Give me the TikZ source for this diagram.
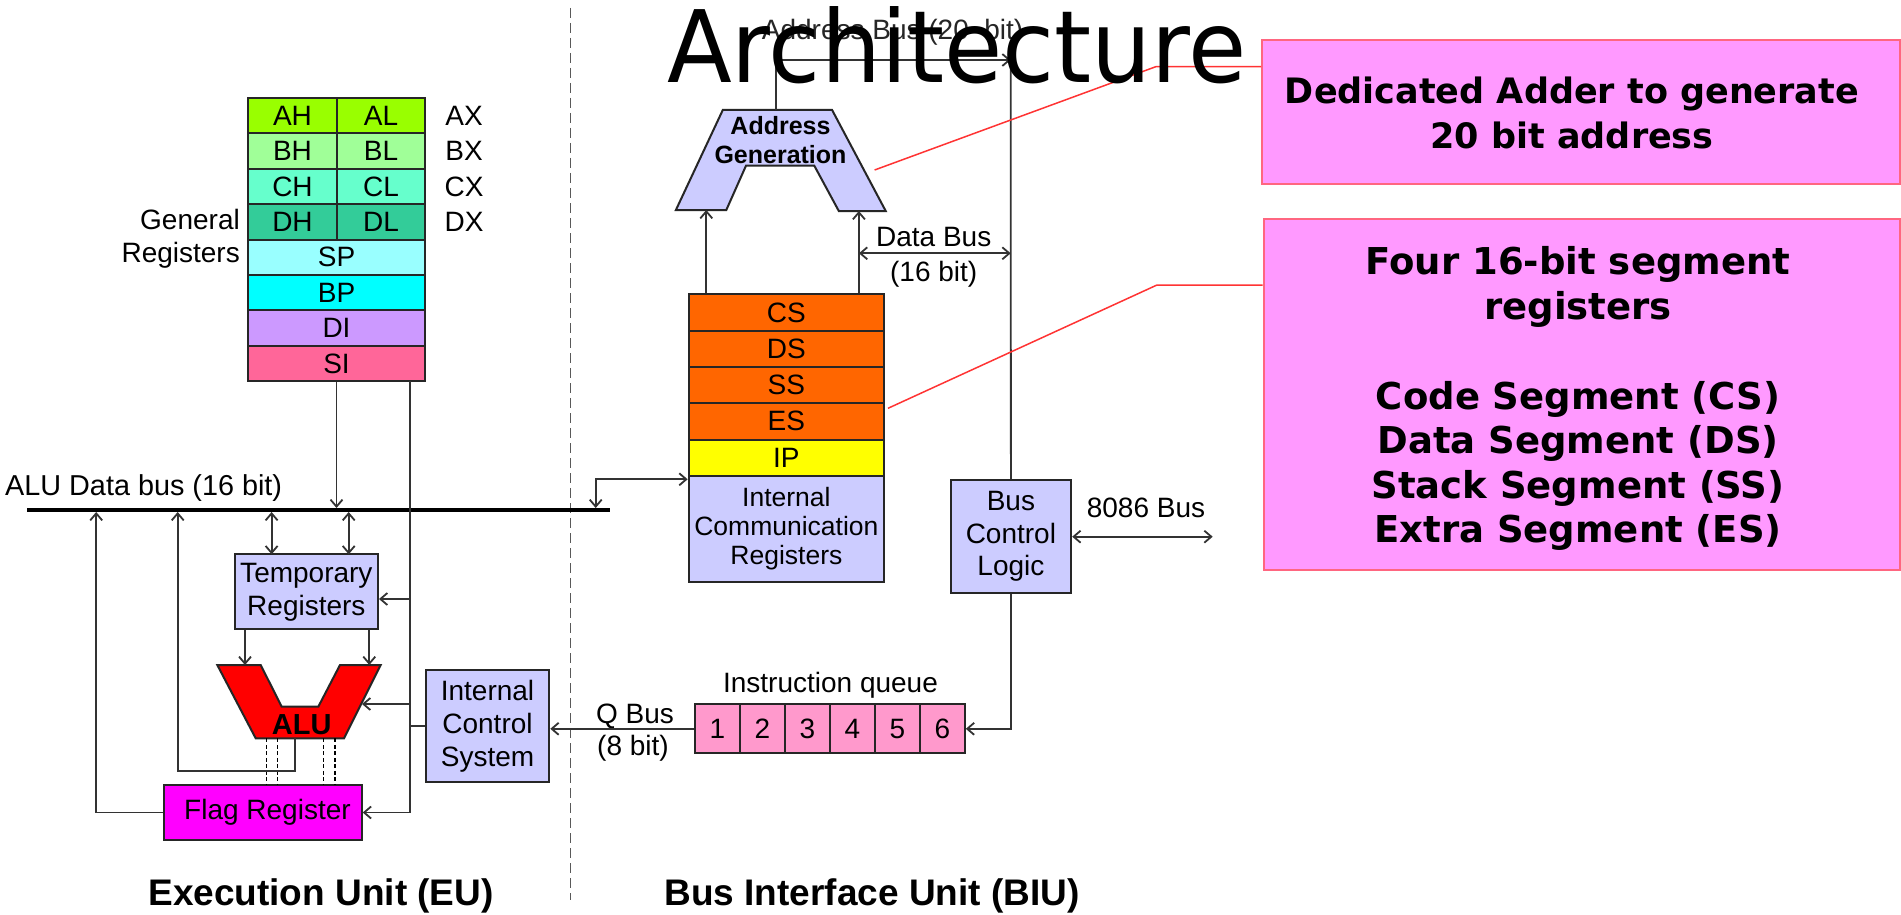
\documentclass[tikz,border=0pt]{standalone}
\usepackage{fontspec}
\setmainfont{Liberation Sans}
\newfontfamily\dejavu{DejaVu Sans}
\usetikzlibrary{arrows.meta}
\definecolor{cAH}{HTML}{99FF00}
\definecolor{cBH}{HTML}{A0FF98}
\definecolor{cCH}{HTML}{66FFCC}
\definecolor{cDH}{HTML}{33CC99}
\definecolor{cSP}{HTML}{99FFFF}
\definecolor{cBP}{HTML}{00FFFF}
\definecolor{cDI}{HTML}{CC99FF}
\definecolor{cSI}{HTML}{FF6699}
\definecolor{cSeg}{HTML}{FF6600}
\definecolor{cIP}{HTML}{FFFF00}
\definecolor{cLav}{HTML}{CCCCFF}
\definecolor{cQ}{HTML}{FF99CC}
\definecolor{cFlag}{HTML}{FF00FF}
\definecolor{cALU}{HTML}{FF0000}
\definecolor{cCall}{HTML}{FF99FF}
\definecolor{cCallB}{HTML}{FF6680}
\definecolor{cLine}{HTML}{333333}
\definecolor{cRed}{HTML}{FF3333}
\tikzset{
 ln/.style={draw=cLine, line width=1.8pt},
 arr/.style={ln, -{Straight Barb[length=7pt,width=12pt]}},
 darr/.style={ln, {Straight Barb[length=7pt,width=12pt]}-{Straight Barb[length=7pt,width=12pt]}},
 dl/.style={draw=black, line width=1.5pt, dash pattern=on 4pt off 2.5pt},
 bx/.style={draw=black!85, line width=2pt, inner sep=0pt, align=center, font=\fontsize{28}{33}\selectfont},
 lbl/.style={inner sep=0pt, font=\fontsize{28}{33}\selectfont},
 cl/.style={draw=cRed, line width=1.5pt},
 callout/.style={draw=cCallB, line width=2pt, fill=cCall, inner sep=0pt},
 calltext/.style={inner sep=0pt, align=center, font=\dejavu\bfseries\fontsize{#1}{44.5}\selectfont},
}
\begin{document}
\begin{tikzpicture}[x=1pt,y=-1pt]
\fill[white] (0,0) rectangle (1901,915);
\useasboundingbox (0,0) rectangle (1901,915);

% ---------- coordinates ----------
\coordinate (busL) at (27,510);
\coordinate (busR) at (610,510);
\coordinate (busTop) at (0,508);
\coordinate (busBot) at (0,512);
\coordinate (divT) at (570.5,8);
\coordinate (divB) at (570.5,900);

% divider
\draw[ln, draw=black!65, dash pattern=on 10pt off 5pt] (divT) -- (divB);

% ---------- general registers ----------
\node[bx, fill=cAH, minimum width=89pt, minimum height=35.4pt] (AH) at (292.5,115.7) {AH};
\node[bx, fill=cAH, minimum width=88pt, minimum height=35.4pt] (AL) at (381,115.7) {AL};
\node[bx, fill=cBH, minimum width=89pt, minimum height=35.4pt] (BH) at (292.5,151.1) {BH};
\node[bx, fill=cBH, minimum width=88pt, minimum height=35.4pt] (BL) at (381,151.1) {BL};
\node[bx, fill=cCH, minimum width=89pt, minimum height=35.4pt] (CH) at (292.5,186.5) {CH};
\node[bx, fill=cCH, minimum width=88pt, minimum height=35.4pt] (CL) at (381,186.5) {CL};
\node[bx, fill=cDH, minimum width=89pt, minimum height=35.4pt] (DH) at (292.5,221.9) {DH};
\node[bx, fill=cDH, minimum width=88pt, minimum height=35.4pt] (DL) at (381,221.9) {DL};
\node[bx, fill=cSP, minimum width=177pt, minimum height=35.4pt] (SP) at (336.5,257.3) {SP};
\node[bx, fill=cBP, minimum width=177pt, minimum height=35.4pt] (BP) at (336.5,292.7) {BP};
\node[bx, fill=cDI, minimum width=177pt, minimum height=35.4pt] (DI) at (336.5,328.1) {DI};
\node[bx, fill=cSI, minimum width=177pt, minimum height=35.4pt] (SI) at (336.5,363.5) {SI};
\node[lbl] (AX) at (464,115.7) {AX};
\node[lbl] (BX) at (464,151.1) {BX};
\node[lbl] (CX) at (464,186.5) {CX};
\node[lbl] (DX) at (464,221.9) {DX};
\node[lbl, anchor=east, align=right, font=\fontsize{28}{33.5}\selectfont] (GR) at (240,239) {General\\Registers};

% ---------- ALU data bus ----------
\draw[line width=4pt, draw=black] (busL) -- (busR);
\node[lbl, anchor=base west, font=\fontsize{28.8}{33}\selectfont] (busLbl) at (5,495) {ALU Data bus (16 bit)};

% ---------- EU boxes ----------
\node[bx, fill=cLav, minimum width=143.3pt, minimum height=75pt] (TEMP) at (306.35,591.8) {Temporary\\Registers};
\node[bx, fill=cFlag, minimum width=197.4pt, minimum height=55pt] (FLAG) at (263,812.5) {\hspace*{9pt}Flag Register};
\node[bx, fill=cLav, minimum width=123.6pt, minimum height=112pt] (ICS) at (487.5,726) {Internal\\Control\\System};
\draw[draw=black!85, line width=2pt, fill=cALU] (217.3,665) -- (260.7,665) -- (281.7,706.7) -- (318.3,706.7) -- (340,665) -- (380.7,665) -- (344,738.3) -- (255.7,738.3) -- cycle;
\node[inner sep=0pt, font=\bfseries\fontsize{29}{32}\selectfont] (ALUlbl) at (301.7,724.5) {ALU};

% ---------- EU connectors ----------
\coordinate (ctlT) at (410,381.2);
\coordinate (ctlB) at (410,812.5);
\coordinate (cT) at (410,599);
\coordinate (cA) at (410,704);
\coordinate (aluR) at (362,704);
\coordinate (aluA) at (245,665);
\coordinate (aluB) at (369.3,665);
\coordinate (tA) at (271.6,554.3);
\coordinate (tB) at (348.7,554.3);
\coordinate (aluO) at (295,738.3);
\coordinate (fb1) at (177.7,771);
\coordinate (fb2) at (96.2,812.5);

\draw[arr] (SI.south) -- (SI.south |- busTop);
\draw[ln] (ctlT) -- (ctlB);
\draw[arr] (ctlB) -- (FLAG.east);
\draw[arr] (cT) -- (cT -| TEMP.east);
\draw[arr] (cA) -- (aluR);
\draw[ln] (ICS.west) -- (ICS.west -| ctlT);
\draw[arr] (aluA |- TEMP.south) -- (aluA);
\draw[arr] (aluB |- TEMP.south) -- (aluB);
\draw[darr] (tA |- busBot) -- (tA);
\draw[darr] (tB |- busBot) -- (tB);
\foreach \x in {266.7,277.3,323.3,335} \draw[dl] (\x,738.3) -- (\x,738.3 |- FLAG.north);
\draw[arr] (aluO) |- (fb1) -- (fb1 |- busBot);
\draw[arr] (FLAG.west) -- (fb2) -- (fb2 |- busBot);

% ---------- BIU ----------
\draw[draw=black!85, line width=2pt, fill=cLav] (722.8,110) -- (832.1,110) -- (885.7,211) -- (838.8,211) -- (814.3,165.7) -- (746,165.7) -- (726.3,210) -- (675.9,210) -- cycle;
\node[inner sep=0pt, align=center, font=\bfseries\fontsize{25}{29}\selectfont] (AGlbl) at (780.5,140) {Address\\Generation};

\node[bx, fill=cSeg, minimum width=195.5pt, minimum height=36.3pt] (CS) at (786.4,312.45) {CS};
\node[bx, fill=cSeg, minimum width=195.5pt, minimum height=36.3pt] (DS) at (786.4,348.75) {DS};
\node[bx, fill=cSeg, minimum width=195.5pt, minimum height=36.3pt] (SS) at (786.4,385.05) {SS};
\node[bx, fill=cSeg, minimum width=195.5pt, minimum height=36.3pt] (ES) at (786.4,421.35) {ES};
\node[bx, fill=cIP, minimum width=195.5pt, minimum height=36.3pt] (IP) at (786.4,457.65) {IP};
\node[bx, fill=cLav, minimum width=195.5pt, minimum height=106.5pt, font=\fontsize{26.5}{29}\selectfont] (ICR) at (786.4,529.05) {Internal\\Communication\\Registers};

\node[bx, fill=cLav, minimum width=120.6pt, minimum height=113.3pt, font=\fontsize{28}{32.5}\selectfont] (BCL) at (1010.9,536.7) {Bus\\Control\\Logic};

\node[bx, fill=cQ, minimum width=45pt, minimum height=49pt] (Q1) at (717.3,728.8) {1};
\node[bx, fill=cQ, minimum width=45pt, minimum height=49pt] (Q2) at (762.3,728.8) {2};
\node[bx, fill=cQ, minimum width=45pt, minimum height=49pt] (Q3) at (807.3,728.8) {3};
\node[bx, fill=cQ, minimum width=45pt, minimum height=49pt] (Q4) at (852.3,728.8) {4};
\node[bx, fill=cQ, minimum width=45pt, minimum height=49pt] (Q5) at (897.3,728.8) {5};
\node[bx, fill=cQ, minimum width=45pt, minimum height=49pt] (Q6) at (942.3,728.8) {6};

% BIU labels
\node[lbl, anchor=base west, text=black!85] (ABlbl) at (761.7,40) {Address Bus (20\ \ bit)};
\node[lbl, anchor=base] (DBlbl) at (933.7,246.7) {Data Bus};
\node[lbl, anchor=base] (DBlbl2) at (933.7,281.7) {(16 bit)};
\node[lbl, anchor=base] (EBlbl) at (1146,517.3) {8086 Bus};
\node[lbl, anchor=base] (IQlbl) at (830.5,692.3) {Instruction queue};
\node[lbl, anchor=base] (QBlbl) at (635,723.3) {Q Bus};
\node[lbl, anchor=base] (QBlbl2) at (633,755) {(8 bit)};

% BIU connectors
\coordinate (agTop) at (776.3,110);
\coordinate (abC) at (1010.7,60);
\coordinate (ag1) at (706.3,210);
\coordinate (ag2) at (858.9,211);
\coordinate (db) at (858.9,253.3);
\coordinate (ib) at (595.7,479.3);
\coordinate (eb) at (1212.7,537.3);

\draw[arr] (agTop) |- (abC);
\draw[ln] (abC) -- (BCL.north);
\draw[arr] (ag1 |- CS.north) -- (ag1);
\draw[arr] (ag2 |- CS.north) -- (ag2);
\draw[darr] (db) -- (db -| abC);
\draw[darr] (ib |- busTop) -- (ib) -- (ib -| ICR.west);
\draw[darr] (BCL.east) -- (BCL.east -| eb);
\draw[arr] (BCL.south) |- (Q6.east);
\draw[arr] (Q1.west) -- (Q1.west -| ICS.east);

% bottom titles
\node[anchor=base, inner sep=0pt, font=\bfseries\fontsize{37}{40}\selectfont] (EU) at (321,905) {Execution Unit (EU)};
\node[anchor=base, inner sep=0pt, font=\bfseries\fontsize{37}{40}\selectfont] (BIU) at (872,905) {Bus Interface Unit (BIU)};

% ---------- callouts ----------
\node[callout, minimum width=638pt, minimum height=143.6pt] (CB1) at (1581,111.8) {};
\node[calltext=35] (CB1t) at (1572,113.2) {Dedicated Adder to generate\\20 bit address};
\node[callout, minimum width=636.5pt, minimum height=351pt] (CB2) at (1581.75,394.5) {};
\node[calltext=37] (CB2t) at (1578,398.8) {Four 16-bit segment\\registers\\[45.5pt]Code Segment (CS)\\Data Segment (DS)\\Stack Segment (SS)\\Extra Segment (ES)};
\coordinate (p1) at (874.6,170);
\coordinate (k1) at (1155.8,66.7);
\coordinate (p2) at (888,408.3);
\coordinate (k2) at (1157,285);
\draw[cl] (p1) -- (k1) -- (k1 -| CB1.west);
\draw[cl] (p2) -- (k2) -- (k2 -| CB2.west);

% ---------- title ----------
\node[anchor=base west, inner sep=0pt, font=\dejavu\fontsize{100}{110}\selectfont] (title) at (667,83) {\scalebox{0.947}[1]{Architecture}};
\end{tikzpicture}
\end{document}
